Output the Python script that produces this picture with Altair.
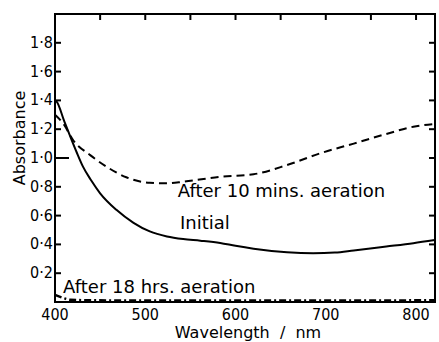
import altair as alt
import pandas as pd

# ---- data ----
wl_initial = [400, 402, 410, 417, 424, 431, 440, 450, 468, 487, 505, 524, 542, 561, 583, 600, 620, 657, 686, 710, 731, 767, 797, 821]
abs_initial = [1.40, 1.39, 1.26, 1.148, 1.04, 0.94, 0.845, 0.755, 0.64, 0.55, 0.49, 0.455, 0.437, 0.426, 0.41, 0.39, 0.37, 0.345, 0.338, 0.343, 0.358, 0.385, 0.408, 0.43]

wl_10min = [400, 409, 420, 439, 457, 479, 505, 524, 542, 560, 583, 620, 657, 694, 731, 767, 797, 821]
abs_10min = [1.30, 1.24, 1.125, 1.02, 0.94, 0.866, 0.828, 0.824, 0.835, 0.85, 0.87, 0.887, 0.951, 1.033, 1.10, 1.167, 1.217, 1.236]

wl_18hr = [400, 408, 417, 440, 500, 600, 700, 821]
abs_18hr = [0.05, 0.03, 0.015, 0.012, 0.01, 0.01, 0.01, 0.012]

label_texts = ["After 10 mins. aeration", "Initial", "After 18 hrs. aeration"]
label_wl = [536, 538.5, 409]
label_abs = [0.729, 0.507, 0.0625]

x_tick_labels = [400, 500, 600, 700, 800]
y_tick_labels = [0.2, 0.4, 0.6, 0.8, 1.0, 1.2, 1.4, 1.6, 1.8]
top_ticks = [450, 500, 550, 600, 650, 700, 750, 800]

x_title = "Wavelength\u00a0\u00a0/\u00a0\u00a0nm"
y_title = "Absorbance"

X_DOMAIN = [400, 821]
Y_DOMAIN = [0, 2.0]

W, H = 380, 288
TICK_LEN = 6
LONG_TICK_LEN = 14

# pixel -> data-unit conversion factors (for offsets of decorations)
dx_px = (X_DOMAIN[1] - X_DOMAIN[0]) / W
dy_px = (Y_DOMAIN[1] - Y_DOMAIN[0]) / H

df_init = pd.DataFrame({"wl": wl_initial, "a": abs_initial})
df_10 = pd.DataFrame({"wl": wl_10min, "a": abs_10min})
df_18 = pd.DataFrame({"wl": wl_18hr, "a": abs_18hr})
df_lab = pd.DataFrame({"wl": label_wl, "a": label_abs, "t": label_texts})

# inward tick marks, each drawn as a two-point line segment
rows = []
for i, v in enumerate(y_tick_labels):
    ln = LONG_TICK_LEN if abs(v - 1.0) < 1e-9 else TICK_LEN
    rows.append({"g": f"L{i}", "wl": X_DOMAIN[0], "a": v})
    rows.append({"g": f"L{i}", "wl": X_DOMAIN[0] + ln * dx_px, "a": v})
    rows.append({"g": f"R{i}", "wl": X_DOMAIN[1] - TICK_LEN * dx_px, "a": v})
    rows.append({"g": f"R{i}", "wl": X_DOMAIN[1], "a": v})
for i, w in enumerate(top_ticks):
    rows.append({"g": f"T{i}", "wl": w, "a": Y_DOMAIN[1]})
    rows.append({"g": f"T{i}", "wl": w, "a": Y_DOMAIN[1] - TICK_LEN * dy_px})
df_ticks = pd.DataFrame(rows)

# tick-label tables
df_ylab = pd.DataFrame({"a": y_tick_labels})
df_ylab["wl"] = X_DOMAIN[0] - 2 * dx_px
df_ylab["t"] = [f"{v:.1f}".replace(".", "\u00b7") for v in y_tick_labels]
df_xlab = pd.DataFrame({"wl": x_tick_labels})
df_xlab["a"] = Y_DOMAIN[0] - 5 * dy_px
df_xlab["t"] = [str(v) for v in x_tick_labels]

# axis titles
df_xt = pd.DataFrame({"wl": [X_DOMAIN[0] + 193 * dx_px], "a": [Y_DOMAIN[0] - 36 * dy_px], "t": [x_title]})
df_yt = pd.DataFrame({"wl": [X_DOMAIN[0] - 35 * dx_px], "a": [Y_DOMAIN[1] - 124 * dy_px], "t": [y_title]})

xs = alt.Scale(domain=X_DOMAIN, nice=False, zero=False)
ys = alt.Scale(domain=Y_DOMAIN, nice=False, zero=False)

TICK_FONT = "DejaVu Sans Condensed, DejaVu Sans"
TEXT_FONT = "DejaVu Sans"


def X():
    return alt.X("wl:Q", scale=xs, axis=None)


def Y():
    return alt.Y("a:Q", scale=ys, axis=None)


line_init = alt.Chart(df_init).mark_line(
    color="black", strokeWidth=2, interpolate="monotone"
).encode(x=X(), y=Y())

line_10 = alt.Chart(df_10).mark_line(
    color="black", strokeWidth=2, strokeDash=[8, 5], interpolate="monotone"
).encode(x=X(), y=Y())

line_18 = alt.Chart(df_18).mark_line(
    color="black", strokeWidth=2.5, strokeDash=[7, 3, 2, 3], interpolate="monotone"
).encode(x=X(), y=Y())

labels = alt.Chart(df_lab).mark_text(
    font=TEXT_FONT, fontSize=18, color="black", align="left", baseline="alphabetic"
).encode(x=X(), y=Y(), text="t:N")

ticks = alt.Chart(df_ticks).mark_line(color="black", strokeWidth=2).encode(
    x=X(), y=Y(), detail="g:N", order=alt.Order("g:N")
)

# tick labels and axis titles
ylabels = alt.Chart(df_ylab).mark_text(
    font=TICK_FONT, fontSize=16, color="black", align="right", baseline="middle"
).encode(x=X(), y=Y(), text="t:N")
xlabels = alt.Chart(df_xlab).mark_text(
    font=TICK_FONT, fontSize=16, color="black", align="center", baseline="top"
).encode(x=X(), y=Y(), text="t:N")
xtitle = alt.Chart(df_xt).mark_text(
    font=TEXT_FONT, fontSize=16, color="black", align="center", baseline="alphabetic"
).encode(x=X(), y=Y(), text="t:N")
ytitle = alt.Chart(df_yt).mark_text(
    font=TEXT_FONT, fontSize=16, color="black", align="center", baseline="middle", angle=270
).encode(x=X(), y=Y(), text="t:N")

chart = alt.layer(
    line_init, line_10, line_18, labels, ticks,
    ylabels, xlabels, xtitle, ytitle,
).properties(
    width=W, height=H,
    padding={"left": 55, "top": 14, "right": 4, "bottom": 40},
    autosize=alt.AutoSizeParams(type="none"),
    background="white",
).configure_view(
    stroke="black", strokeWidth=2
)

chart.save("out.html", embed_options={"renderer": "svg", "actions": False})
